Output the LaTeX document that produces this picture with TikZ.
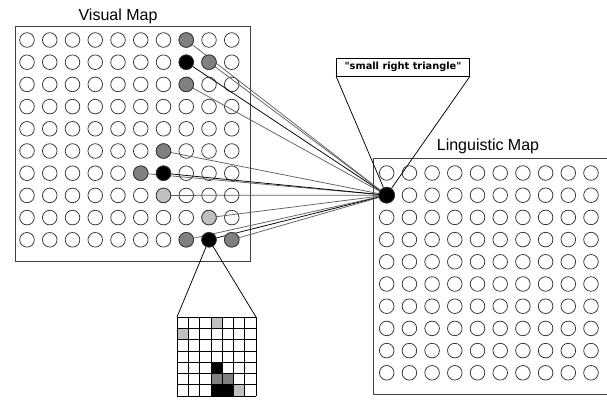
\documentclass[tikz,border=0pt]{standalone}
\usepackage{fontspec}
\setmainfont{Liberation Sans}
\newfontfamily\lblfont{DejaVu Sans}
\begin{document}
\begin{tikzpicture}[x=1pt,y=-1pt,
  frame/.style={draw=black!75,line width=1pt},
  cell/.style={circle,draw=black!80,line width=0.75pt,fill=white,minimum size=14.6pt,inner sep=0pt},
  title/.style={anchor=base,font=\fontsize{16}{18}\selectfont,inner sep=0pt},
  lbl/.style={draw=black,line width=0.8pt,fill=white,minimum width=133pt,minimum height=18pt,inner sep=0pt,
    font=\lblfont\bfseries\fontsize{9.8}{12}\selectfont},
  link/.style={line width=0.75pt},
  pix/.style={draw=black,line width=0.6pt}
]
\useasboundingbox (0,0) rectangle (607,399);
\definecolor{midgray}{HTML}{808080}
\definecolor{lightgr}{HTML}{C0C0C0}
\definecolor{linkgray}{HTML}{606060}

% Visual map
\draw[frame] (15,26) rectangle (250,261);
\node[title] (vtitle) at (118,20) {Visual Map};
\foreach \i in {0,...,9}
  \foreach \j in {0,...,9}
    \node[cell] (v\i-\j) at ({27+22.75*\i},{40+22.2*\j}) {};

% Linguistic map
\draw[frame] (373,158) -- (610,158) (373,158) -- (373,394) -- (610,394);
\node[title] (ltitle) at (488,150) {Linguistic Map};
\foreach \i in {0,...,9}
  \foreach \j in {0,...,9}
    \node[cell] (l\i-\j) at ({386.7+22.7*\i},{173+22.2*\j}) {};

% links
\foreach \i/\j/\c in {7/0/linkgray,7/1/black,8/1/linkgray,7/2/linkgray,6/5/linkgray,5/6/linkgray,6/6/black,6/7/linkgray,8/8/linkgray,7/9/linkgray,8/9/black,9/9/linkgray}
  \draw[link,draw=\c] (v\i-\j) -- (l0-1);

% filled units on top
\foreach \i/\j/\f in {7/0/midgray,7/1/black,8/1/midgray,7/2/midgray,6/5/midgray,5/6/midgray,6/6/black,6/7/lightgr,8/8/lightgr,7/9/midgray,8/9/black,9/9/midgray}
  \node[cell,fill=\f] at (v\i-\j) {};
\node[cell,fill=black,minimum size=16pt] (lwin) at (l0-1) {};

% label
\node[lbl] (lab) at (403,67) {"small right triangle"};
\draw[link] (lab.south west) -- (lwin);
\draw[link] (lab.south east) -- (lwin);

% pixel patch
\coordinate (gtl) at (177,317);
\coordinate (gtr) at (256,317);
\draw[link] (v8-9) -- (gtl);
\draw[link] (v8-9) -- (gtr);
\foreach \i/\j/\f in {3/0/lightgr,0/1/lightgr,3/4/black,3/5/midgray,4/5/midgray,3/6/black,4/6/black,5/6/lightgr}
  \fill[\f] ({177+11.286*\i},{317+11.286*\j}) rectangle ++(11.286,11.286);
\foreach \k in {0,...,7} {
  \draw[pix] ({177+11.286*\k},317) -- ({177+11.286*\k},396);
  \draw[pix] (177,{317+11.286*\k}) -- (256,{317+11.286*\k});
}
\end{tikzpicture}
\end{document}
